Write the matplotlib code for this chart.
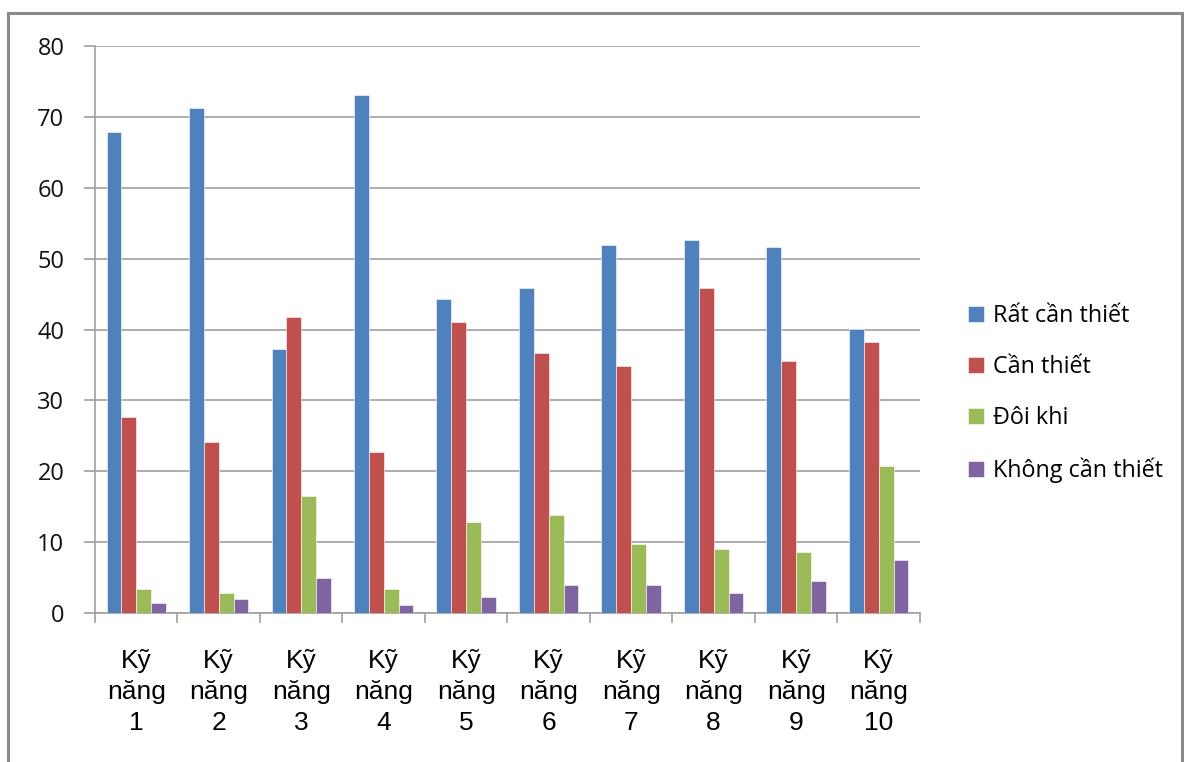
import numpy as np
import matplotlib.pyplot as plt
from matplotlib.patches import Rectangle

# survey results per skill (percent)
skills = ["Kỹ\nnăng\n%d" % i for i in range(1, 11)]
series_names = ["Rất cần thiết", "Cần thiết", "Đôi khi", "Không cần thiết"]
rat_can_thiet = [67.9, 71.2, 37.3, 73.1, 44.3, 45.8, 51.9, 52.7, 51.7, 40.1]
can_thiet = [27.7, 24.2, 41.8, 22.7, 41.0, 36.7, 34.9, 45.8, 35.5, 38.2]
doi_khi = [3.4, 2.8, 16.5, 3.4, 12.9, 13.9, 9.8, 9.0, 8.65, 20.7]
khong_can_thiet = [1.45, 2.0, 4.9, 1.1, 2.2, 3.95, 3.95, 2.8, 4.55, 7.5]
colors = ["#4F81BD", "#C0504D", "#9BBB59", "#8064A2"]

fig = plt.figure(figsize=(11.87, 7.62), dpi=100)
ax = fig.add_axes([0.080, 0.1955, 0.695, 0.744])

# outer chart border
fig.patches.append(Rectangle((8 / 1187, -0.05), 1174 / 1187, 1.05 - 13 / 762,
                             transform=fig.transFigure, fill=False,
                             edgecolor="#8a8a8a", linewidth=2.2))

x = np.arange(len(skills))
w = 0.18
all_series = [rat_can_thiet, can_thiet, doi_khi, khong_can_thiet]
for i, (vals, name, c) in enumerate(zip(all_series, series_names, colors)):
    ax.bar(x + (i - 1.5) * w, vals, width=w, color=c, label=name,
           edgecolor="white", linewidth=0.4, zorder=3)

ax.set_xlim(-0.5, len(skills) - 0.5)
ax.set_ylim(0, 80)
ax.set_yticks(range(0, 81, 10))
ax.grid(axis="y", color="#a0a0a0", linewidth=1.2, zorder=0)

for s in ["top", "right"]:
    ax.spines[s].set_visible(False)
for s in ["left", "bottom"]:
    ax.spines[s].set_color("#a0a0a0")
    ax.spines[s].set_linewidth(1.2)

ax.set_xticks(x)
ax.set_xticklabels(skills, family="Liberation Sans", fontsize=19, linespacing=1.36)
ax.set_xticks(np.arange(-0.5, len(skills)), minor=True)
ax.tick_params(axis="x", which="major", length=0, pad=26)
ax.tick_params(axis="x", which="minor", length=7, width=1.2, color="#a0a0a0")
ax.tick_params(axis="y", length=8, width=1.2, color="#a0a0a0", pad=14)
for lbl in ax.get_yticklabels():
    lbl.set_family(["Open Sans", "DejaVu Sans"])
    lbl.set_fontsize(17)
    lbl.set_color("#111111")

fig.legend(loc="upper left", bbox_to_anchor=(0.798, 0.629), frameon=False,
           prop={"family": ["Open Sans", "DejaVu Sans"], "size": 16.8},
           handlelength=0.68, handleheight=0.68, handletextpad=0.4,
           labelspacing=1.17)

fig.savefig("out.png", dpi=100)
